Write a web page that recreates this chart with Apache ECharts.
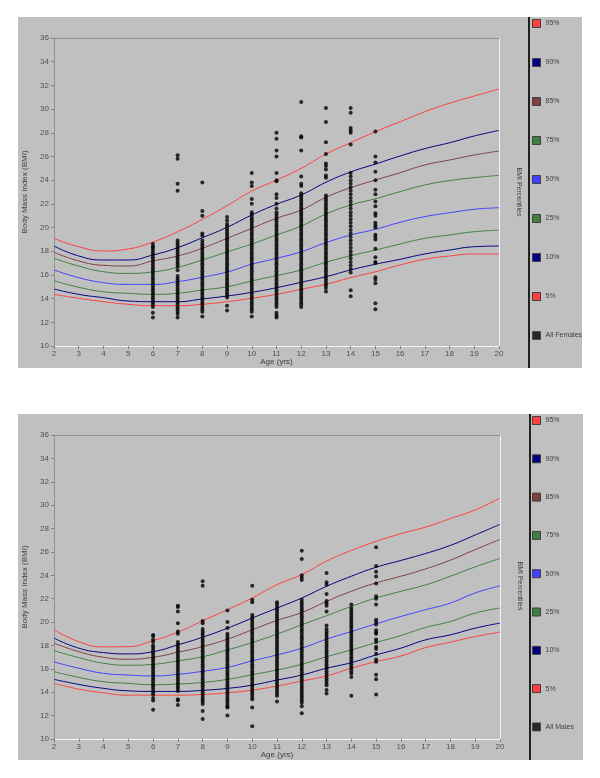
<!DOCTYPE html>
<html>
<head>
<meta charset="utf-8">
<script src="https://cdn.jsdelivr.net/npm/echarts@6/dist/echarts.min.js"></script>
<style>
  html, body { margin: 0; padding: 0; background: #fff; }
  .panel { position: absolute; background: #c0c0c0; }
  #females { left: 18px; top: 17px; width: 564px; height: 351px; }
  #males { left: 18px; top: 414px; width: 565px; height: 346px; }
</style>
</head>
<body>
<div id="females" class="panel"></div>
<div id="males" class="panel"></div>
<script>
// percentile curves, one value per age 2..20
const ages = [2, 3, 4, 5, 6, 7, 8, 9, 10, 11, 12, 13, 14, 15, 16, 17, 18, 19, 20];
const percentileNames = ['95%', '90%', '85%', '75%', '50%', '25%', '10%', '5%'];
const percentileColors = ['#ff4040', '#000080', '#804040', '#408040', '#4040ff', '#408040', '#000080', '#ff4040'];

const femaleP95 = [19.09, 18.38, 18.02, 18.19, 18.78, 19.65, 20.69, 21.84, 23.08, 24.0, 25.0, 26.2, 27.16, 28.09, 28.93, 29.78, 30.49, 31.1, 31.7];
const femaleP90 = [18.44, 17.6, 17.26, 17.26, 17.68, 18.3, 19.14, 20.02, 21.06, 21.96, 22.75, 23.82, 24.69, 25.36, 26.04, 26.66, 27.16, 27.73, 28.2];
const femaleP85 = [17.91, 17.18, 16.81, 16.75, 17.18, 17.6, 18.25, 19.09, 19.93, 20.78, 21.48, 22.55, 23.36, 24.01, 24.63, 25.28, 25.7, 26.12, 26.46];
const femaleP75 = [17.4, 16.75, 16.27, 16.13, 16.25, 16.64, 17.26, 17.94, 18.61, 19.37, 20.13, 21.14, 21.9, 22.43, 23.03, 23.59, 23.96, 24.21, 24.41];
const femaleP50 = [16.42, 15.77, 15.35, 15.2, 15.2, 15.43, 15.8, 16.25, 16.9, 17.4, 17.96, 18.72, 19.37, 19.85, 20.44, 20.92, 21.25, 21.54, 21.67];
const femaleP25 = [15.51, 14.96, 14.58, 14.45, 14.36, 14.45, 14.73, 15.0, 15.49, 15.94, 16.42, 17.07, 17.62, 18.1, 18.61, 19.09, 19.37, 19.65, 19.77];
const femaleP10 = [14.81, 14.36, 14.08, 13.8, 13.74, 13.74, 13.97, 14.22, 14.53, 14.92, 15.38, 15.85, 16.42, 16.9, 17.32, 17.77, 18.1, 18.38, 18.44];
const femaleP5 = [14.36, 14.03, 13.74, 13.52, 13.4, 13.4, 13.52, 13.74, 14.03, 14.36, 14.79, 15.21, 15.77, 16.27, 16.84, 17.32, 17.6, 17.77, 17.77];

const maleP95 = [19.34, 18.33, 17.88, 17.9, 18.42, 19.14, 20.11, 21.06, 22.06, 23.2, 24.06, 25.21, 26.13, 26.9, 27.56, 28.13, 28.85, 29.6, 30.6];
const maleP90 = [18.63, 17.77, 17.39, 17.28, 17.47, 18.05, 18.71, 19.48, 20.34, 21.2, 22.06, 23.06, 23.92, 24.69, 25.27, 25.87, 26.56, 27.45, 28.36];
const maleP85 = [18.2, 17.47, 16.99, 16.82, 16.99, 17.42, 17.9, 18.54, 19.34, 20.14, 20.82, 21.77, 22.63, 23.35, 23.92, 24.55, 25.3, 26.2, 27.07];
const maleP75 = [17.56, 16.96, 16.48, 16.31, 16.39, 16.68, 17.04, 17.62, 18.25, 18.97, 19.77, 20.54, 21.34, 22.06, 22.63, 23.18, 23.92, 24.72, 25.44];
const maleP50 = [16.59, 16.05, 15.62, 15.47, 15.39, 15.53, 15.79, 16.13, 16.68, 17.19, 17.77, 18.54, 19.19, 19.85, 20.48, 21.06, 21.63, 22.49, 23.1];
const maleP25 = [15.76, 15.27, 14.9, 14.76, 14.64, 14.7, 14.84, 15.1, 15.5, 15.9, 16.39, 17.04, 17.62, 18.25, 18.85, 19.54, 20.05, 20.77, 21.2];
const maleP10 = [15.1, 14.67, 14.33, 14.12, 14.07, 14.07, 14.16, 14.33, 14.61, 15.04, 15.47, 16.05, 16.53, 17.19, 17.77, 18.48, 18.91, 19.48, 19.91];
const maleP5 = [14.76, 14.27, 13.95, 13.75, 13.75, 13.75, 13.81, 13.95, 14.18, 14.53, 14.96, 15.39, 16.05, 16.62, 17.1, 17.82, 18.28, 18.76, 19.14];

// individual children, BMI by age group
const sampleAges = [6, 7, 8, 9, 10, 11, 12, 13, 14, 15];

const femalesAge6 = [18.6, 18.4, 18.3, 18.1, 17.9, 17.7, 17.5, 17.3, 17.1, 16.9, 16.7, 16.5, 16.3, 16.1, 15.9, 15.7, 15.5, 15.3, 15.1, 14.9, 14.7, 14.5, 14.3, 14.1, 13.9, 13.7, 13.5, 13.3, 12.8, 12.4];
const femalesAge7 = [26.1, 25.8, 23.7, 23.1, 18.9, 18.7, 18.5, 18.3, 18.1, 17.9, 17.7, 17.5, 17.3, 17.1, 16.9, 16.7, 16.4, 15.9, 15.7, 15.5, 15.3, 15.1, 14.9, 14.7, 14.5, 14.3, 14.1, 13.9, 13.7, 13.5, 13.3, 13.1, 12.9, 12.7, 12.4];
const femalesAge8 = [23.8, 21.4, 21.0, 19.5, 19.3, 18.9, 18.7, 18.5, 18.3, 18.1, 17.9, 17.7, 17.5, 17.3, 17.1, 16.9, 16.7, 16.5, 16.3, 16.1, 15.9, 15.7, 15.5, 15.3, 15.1, 14.9, 14.7, 14.5, 14.3, 14.1, 13.9, 13.7, 13.5, 13.3, 13.1, 12.9, 12.5];
const femalesAge9 = [20.9, 20.6, 20.3, 20.1, 19.9, 19.7, 19.5, 19.3, 19.1, 18.9, 18.7, 18.5, 18.3, 18.1, 17.9, 17.7, 17.5, 17.3, 17.1, 16.9, 16.7, 16.5, 16.3, 16.1, 15.9, 15.7, 15.5, 15.3, 15.1, 14.9, 14.7, 14.5, 14.3, 14.1, 13.4, 13.0];
const femalesAge10 = [24.6, 23.8, 23.5, 22.4, 22.0, 21.3, 21.1, 20.9, 20.7, 20.5, 20.3, 20.1, 19.9, 19.7, 19.5, 19.3, 19.1, 18.9, 18.7, 18.5, 18.3, 18.1, 17.9, 17.7, 17.5, 17.3, 17.1, 16.9, 16.7, 16.5, 16.3, 16.1, 15.9, 15.7, 15.5, 15.3, 15.1, 14.9, 14.7, 14.5, 14.3, 14.1, 13.9, 13.7, 13.5, 13.3, 13.1, 12.9, 12.5];
const femalesAge11 = [28.0, 27.5, 26.5, 26.0, 24.6, 24.0, 23.9, 22.8, 22.5, 22.0, 21.6, 21.3, 21.1, 20.9, 20.7, 20.5, 20.3, 20.1, 19.9, 19.7, 19.5, 19.3, 19.1, 18.9, 18.7, 18.5, 18.3, 18.1, 17.9, 17.7, 17.5, 17.3, 17.1, 16.9, 16.7, 16.5, 16.3, 16.1, 15.9, 15.7, 15.5, 15.3, 15.1, 14.9, 14.7, 14.5, 14.3, 14.1, 13.9, 13.7, 13.5, 13.3, 12.8, 12.6, 12.4];
const femalesAge12 = [30.6, 27.7, 27.6, 26.5, 24.3, 23.7, 23.5, 22.9, 22.7, 22.5, 22.3, 22.1, 21.9, 21.7, 21.5, 21.3, 21.1, 20.9, 20.7, 20.5, 20.3, 20.1, 19.9, 19.7, 19.5, 19.3, 19.1, 18.9, 18.7, 18.5, 18.3, 18.1, 17.9, 17.7, 17.5, 17.3, 17.1, 16.9, 16.7, 16.5, 16.3, 16.1, 15.9, 15.7, 15.5, 15.3, 15.1, 14.9, 14.7, 14.5, 14.3, 14.1, 13.9, 13.7, 13.5, 13.3];
const femalesAge13 = [30.1, 28.9, 27.2, 26.2, 25.4, 25.2, 24.9, 24.4, 24.2, 22.7, 22.5, 22.3, 22.1, 21.9, 21.7, 21.5, 21.3, 21.1, 20.9, 20.7, 20.5, 20.3, 20.1, 19.9, 19.7, 19.5, 19.3, 19.1, 18.9, 18.7, 18.5, 18.3, 18.1, 17.9, 17.7, 17.5, 17.3, 17.1, 16.9, 16.7, 16.5, 16.3, 16.1, 15.9, 15.7, 15.5, 15.3, 15.1, 14.9, 14.6];
const femalesAge14 = [30.1, 29.7, 28.4, 28.2, 28.0, 27.0, 24.6, 24.3, 24.0, 23.7, 23.4, 23.1, 22.8, 22.5, 22.2, 21.9, 21.6, 21.3, 21.0, 20.7, 20.4, 20.1, 19.8, 19.5, 19.2, 18.9, 18.6, 18.3, 18.0, 17.7, 17.4, 17.1, 16.8, 16.5, 16.2, 14.7, 14.2];
const femalesAge15 = [28.1, 26.0, 25.5, 24.7, 24.0, 23.2, 22.8, 22.2, 21.8, 21.2, 21.0, 20.4, 20.2, 20.0, 19.4, 19.2, 19.0, 18.2, 17.5, 17.1, 17.0, 15.8, 15.6, 15.3, 13.6, 13.1];

const malesAge6 = [18.9, 18.8, 18.5, 18.3, 18.0, 17.8, 17.6, 17.4, 17.2, 17.0, 16.8, 16.6, 16.4, 16.2, 16.0, 15.8, 15.6, 15.4, 15.2, 15.0, 14.8, 14.6, 14.4, 14.2, 14.0, 13.8, 13.5, 13.3, 12.5];
const malesAge7 = [21.4, 21.3, 20.9, 19.9, 19.2, 19.0, 18.3, 18.1, 17.9, 17.7, 17.5, 17.3, 17.1, 16.9, 16.7, 16.5, 16.3, 16.1, 15.9, 15.7, 15.5, 15.3, 15.1, 14.9, 14.7, 14.5, 14.3, 14.1, 13.4, 13.3, 12.9];
const malesAge8 = [23.5, 23.1, 20.1, 19.9, 19.4, 19.2, 19.0, 18.8, 18.6, 18.4, 18.2, 18.0, 17.8, 17.6, 17.4, 17.2, 17.0, 16.8, 16.6, 16.4, 16.2, 16.0, 15.8, 15.6, 15.4, 15.2, 15.0, 14.8, 14.6, 14.4, 14.2, 14.0, 13.8, 13.6, 13.4, 13.2, 13.0, 12.4, 11.7];
const malesAge9 = [21.0, 20.0, 19.5, 19.0, 18.8, 18.6, 18.4, 18.2, 18.0, 17.8, 17.6, 17.4, 17.2, 17.0, 16.8, 16.6, 16.4, 16.2, 16.0, 15.8, 15.6, 15.4, 15.2, 15.0, 14.8, 14.6, 14.4, 14.2, 14.0, 13.8, 13.6, 13.4, 13.2, 13.0, 12.8, 12.7, 12.0];
const malesAge10 = [23.1, 21.9, 21.7, 20.6, 20.4, 20.2, 20.0, 19.8, 19.6, 19.4, 19.2, 19.0, 18.8, 18.6, 18.4, 18.2, 18.0, 17.8, 17.6, 17.4, 17.2, 17.0, 16.8, 16.6, 16.4, 16.2, 16.0, 15.8, 15.6, 15.4, 15.2, 15.0, 14.8, 14.6, 14.4, 14.2, 14.0, 13.8, 13.6, 13.4, 12.7, 11.1];
const malesAge11 = [21.7, 21.5, 21.3, 21.1, 20.9, 20.7, 20.5, 20.3, 20.1, 19.9, 19.7, 19.5, 19.3, 19.1, 18.9, 18.7, 18.5, 18.3, 18.1, 17.9, 17.7, 17.5, 17.3, 17.1, 16.9, 16.7, 16.5, 16.3, 16.1, 15.9, 15.7, 15.5, 15.3, 15.1, 14.9, 14.7, 14.5, 14.3, 14.1, 13.9, 13.7, 13.2];
const malesAge12 = [26.1, 25.4, 24.0, 23.8, 23.6, 21.9, 21.7, 21.5, 21.3, 21.1, 20.9, 20.7, 20.5, 20.3, 20.1, 19.9, 19.7, 19.5, 19.3, 19.1, 18.9, 18.7, 18.5, 18.3, 18.1, 17.9, 17.7, 17.5, 17.3, 17.1, 16.9, 16.7, 16.5, 16.3, 16.1, 15.9, 15.7, 15.5, 15.3, 15.1, 14.9, 14.7, 14.5, 14.3, 14.1, 13.9, 13.7, 13.5, 13.3, 13.1, 12.8, 12.2];
const malesAge13 = [24.2, 23.4, 23.2, 22.4, 21.8, 21.6, 21.4, 20.9, 19.7, 19.4, 19.2, 19.0, 18.8, 18.6, 18.4, 18.2, 18.0, 17.8, 17.6, 17.4, 17.2, 17.0, 16.8, 16.6, 16.4, 16.2, 16.0, 15.8, 15.6, 15.4, 15.2, 15.0, 14.8, 14.6, 14.2, 13.9];
const malesAge14 = [21.5, 21.2, 21.0, 20.8, 20.6, 20.4, 20.2, 20.0, 19.8, 19.6, 19.4, 19.2, 19.0, 18.8, 18.6, 18.4, 18.2, 18.0, 17.8, 17.6, 17.4, 17.2, 17.0, 16.8, 16.6, 16.4, 16.2, 16.0, 15.8, 15.6, 15.3, 13.7];
const malesAge15 = [26.4, 24.8, 24.3, 23.9, 23.3, 22.2, 22.0, 21.5, 20.2, 20.0, 19.8, 19.3, 19.1, 19.0, 18.5, 18.3, 17.9, 17.7, 17.3, 16.8, 16.6, 15.5, 15.1, 13.8];

const FONT = '"Liberation Sans", Arial, sans-serif';
const TEXT = '#404040';

function drawChart(el, curves, groups, allName, box) {
  const chart = echarts.init(el);

  const points = [];
  groups.forEach((vals, i) => {
    vals.forEach(v => points.push([sampleAges[i], v]));
  });

  const series = curves.map((vals, i) => ({
    name: percentileNames[i],
    type: 'line',
    data: vals.map((v, j) => [ages[j], v]),
    smooth: true,
    showSymbol: false,
    color: percentileColors[i],
    lineStyle: { width: 1, color: percentileColors[i] },
    z: 2
  }));
  series.push({
    name: allName,
    type: 'scatter',
    data: points,
    symbol: 'circle',
    symbolSize: 4,
    color: '#000',
    itemStyle: { color: '#000' },
    z: 3
  });

  const option = {
    animation: false,
    textStyle: { fontFamily: FONT },
    grid: {
      left: 36, top: box.top, width: box.width, bottom: box.bottom,
      containLabel: false, outerBoundsMode: 'none'
    },
    xAxis: [
      {
        type: 'value', min: 2, max: 20, interval: 1,
        name: 'Age (yrs)', nameLocation: 'middle', nameGap: 12, nameMoveOverlap: false,
        nameTextStyle: { fontSize: 8, color: TEXT, fontFamily: FONT },
        axisLine: { onZero: false, lineStyle: { color: '#f4f4f4', width: 1 } },
        axisTick: { length: 3, lineStyle: { color: '#808080' } },
        axisLabel: { fontSize: 8, color: '#505050', margin: 4, fontFamily: FONT },
        splitLine: { show: false }
      },
      {
        type: 'value', min: 2, max: 20, position: 'top',
        axisLine: { onZero: false, lineStyle: { color: '#909090' } },
        axisTick: { show: false }, axisLabel: { show: false }, splitLine: { show: false }
      }
    ],
    yAxis: [
      {
        type: 'value', min: 10, max: 36, interval: 2,
        name: 'Body Mass Index (BMI)', nameLocation: 'middle', nameGap: 25, nameMoveOverlap: false,
        nameTextStyle: { fontSize: 8, color: TEXT, fontFamily: FONT },
        axisLine: { show: true, onZero: false, lineStyle: { color: '#909090' } },
        axisTick: { show: true, length: 3, lineStyle: { color: '#808080' } },
        axisLabel: { fontSize: 8, color: '#505050', margin: 5, fontFamily: FONT },
        splitLine: { show: false }
      },
      {
        type: 'value', min: 10, max: 36, position: 'right',
        axisLine: { show: true, onZero: false, lineStyle: { color: '#f4f4f4' } },
        axisTick: { show: false }, axisLabel: { show: false }, splitLine: { show: false }
      }
    ],
    legend: {
      orient: 'vertical',
      left: 514,
      top: box.legendTop,
      padding: 0,
      itemWidth: 8,
      itemHeight: 8,
      itemGap: box.legendGap,
      icon: 'rect',
      itemStyle: { borderColor: '#404040', borderWidth: 1 },
      textStyle: { fontSize: 7, color: TEXT, fontFamily: FONT, lineHeight: 8 },
      data: percentileNames.concat([allName])
    },
    graphic: [
      {
        type: 'rect',
        shape: { x: box.sepX, y: 0, width: 2, height: box.height },
        style: { fill: '#202020' }
      },
      {
        type: 'text',
        x: box.sepX - 9, y: box.labelY,
        rotation: -Math.PI / 2,
        style: {
          text: 'BMI Percentiles', align: 'center', verticalAlign: 'middle',
          fontSize: 7, fill: TEXT, fontFamily: FONT
        }
      }
    ],
    series: series
  };

  chart.setOption(option);
  return chart;
}

drawChart(
  document.getElementById('females'),
  [femaleP95, femaleP90, femaleP85, femaleP75, femaleP50, femaleP25, femaleP10, femaleP5],
  [femalesAge6, femalesAge7, femalesAge8, femalesAge9, femalesAge10, femalesAge11, femalesAge12, femalesAge13, femalesAge14, femalesAge15],
  'All Females',
  { top: 21, width: 445, bottom: 22, legendTop: 2, legendGap: 30, sepX: 510, height: 351, labelY: 175 }
);

drawChart(
  document.getElementById('males'),
  [maleP95, maleP90, maleP85, maleP75, maleP50, maleP25, maleP10, maleP5],
  [malesAge6, malesAge7, malesAge8, malesAge9, malesAge10, malesAge11, malesAge12, malesAge13, malesAge14, malesAge15],
  'All Males',
  { top: 21, width: 446, bottom: 21, legendTop: 2, legendGap: 29.3, sepX: 511, height: 346, labelY: 172 }
);
</script>
</body>
</html>
